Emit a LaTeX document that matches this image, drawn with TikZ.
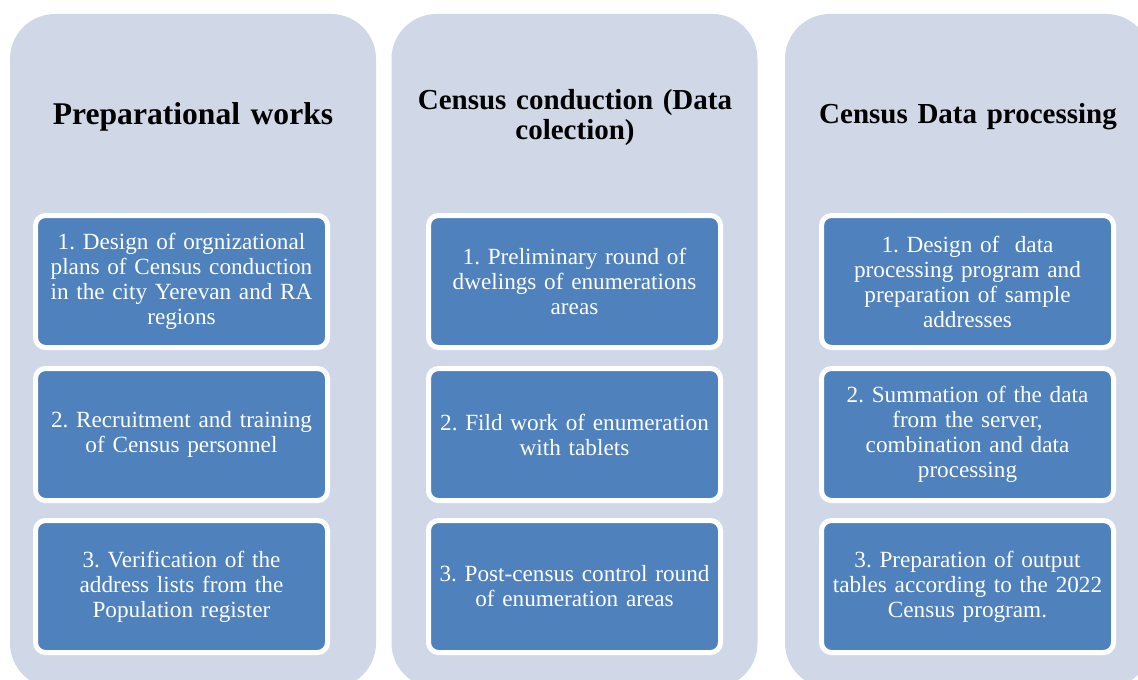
\documentclass[tikz,border=0pt]{standalone}
\usepackage{fontspec}
\setmainfont{Liberation Serif}
\usepackage{tikz}
\usetikzlibrary{positioning}
\frenchspacing
\definecolor{grisazul}{RGB}{208, 216, 232}
\definecolor{azul}{RGB}{79, 129, 189}
\tikzset{
    panel/.style={rectangle, rounded corners=22.5pt, fill=grisazul, minimum width=183pt, minimum height=337pt, inner sep=0pt},
    head/.style={text width=175pt, align=center, inner sep=0pt, font=\fontsize{14.5}{15}\selectfont\bfseries},
    task/.style={rectangle, rounded corners=5pt, fill=azul, draw=white, line width=2.5pt, text=white, minimum width=146pt, minimum height=66pt, text width=142pt, align=center, inner sep=0pt, font=\fontsize{11.6}{12.5}\selectfont},
}

\begin{document}
\begin{tikzpicture}[x=0.5pt, y=-0.5pt]
    \clip (0,0) rectangle (1138,679);
    \fill[white] (0,0) rectangle (1138,679);

    \node[panel] (s1) at (193,351) {};
    \node[panel] (s2) at (574.5,351) {};
    \node[panel] (s3) at (968,351) {};

    \node[head, font=\fontsize{15.8}{16}\selectfont\bfseries] (h1) at (193,117) {Preparational works};
    \node[head] (h2) at (575,118) {Census conduction (Data\\colection)};
    \node[head] (h3) at (968,117) {Census Data processing};

    \node[task] (s1a) at (181.5,281.5) {1. Design of orgnizational\\plans of Census conduction\\in the city Yerevan and RA\\regions};
    \node[task] (s1b) at (181.5,434.5) {2. Recruitment and training\\of Census personnel};
    \node[task] (s1c) at (181.5,586.5) {3. Verification of the\\address lists from the\\Population register};

    \node[task] (s2a) at (574.5,281.5) {1. Preliminary round of\\dwelings of enumerations\\areas};
    \node[task] (s2b) at (574.5,434.5) {2. Fild work of enumeration\\with tablets};
    \node[task] (s2c) at (574.5,586.5) {3. Post-census control round\\of enumeration areas};

    \node[task] (s3a) at (967.5,281.5) {1. Design of~ data\\processing program and\\preparation of sample\\addresses};
    \node[task] (s3b) at (967.5,434.5) {2. Summation of the data\\from the server,\\combination and data\\processing};
    \node[task] (s3c) at (967.5,586.5) {3. Preparation of output\\tables according to the 2022\\Census program.};
\end{tikzpicture}
\end{document}
